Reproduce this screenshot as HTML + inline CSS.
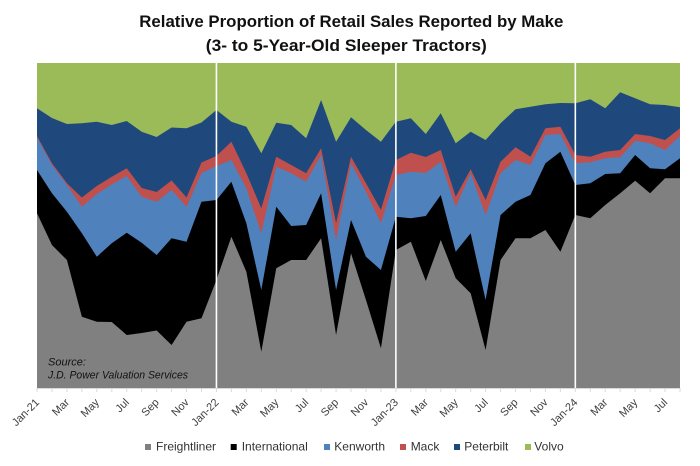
<!DOCTYPE html>
<html>
<head>
<meta charset="utf-8">
<style>
  html,body{margin:0;padding:0;background:#fff;}
  svg{display:block;}
  text{font-family:"Liberation Sans",Arial,sans-serif;}
</style>
</head>
<body>
<svg width="700" height="466" viewBox="0 0 700 466" xmlns="http://www.w3.org/2000/svg">
  <rect x="0" y="0" width="700" height="466" fill="#ffffff"/>

  <text x="351.3" y="27" text-anchor="middle" font-size="17" font-weight="bold" fill="#111" textLength="424" lengthAdjust="spacingAndGlyphs">Relative Proportion of Retail Sales Reported by Make</text>
  <text x="346.3" y="51" text-anchor="middle" font-size="17" font-weight="bold" fill="#111" textLength="281" lengthAdjust="spacingAndGlyphs">(3- to 5-Year-Old Sleeper Tractors)</text>

  <rect x="37" y="63" width="643" height="325" fill="#9BBB59"/>

  <polygon fill="#1F497D" points="37,108.3 51.95,118 66.91,124 81.86,123.3 96.81,121.7 111.77,125 126.72,121 141.67,131.7 156.63,137 171.58,127.5 186.53,128.3 201.49,122.5 216.44,110 231.39,121.7 246.35,126.7 261.3,153.3 276.25,122.7 291.21,125 306.16,138.3 321.11,100 336.07,141.7 351.02,117.3 365.97,130 380.93,141.7 395.88,121.7 410.84,118.3 425.79,134 440.74,113.3 455.7,143.3 470.65,131.7 485.6,140 500.56,123.3 515.51,109.3 530.46,106.7 545.42,104.3 560.37,103 575.33,103.3 590.28,99.3 605.23,108.3 620.19,92.3 635.14,98.3 650.09,104.3 665.05,105 680,107.3 680,388 37,388"/>

  <polygon fill="#C0504D" points="37,136 51.95,163.3 66.91,183.3 81.86,197.5 96.81,186 111.77,176.7 126.72,168.3 141.67,188 156.63,192 171.58,180.5 186.53,197.5 201.49,162.5 216.44,156 231.39,141.7 246.35,173.3 261.3,208.3 276.25,156.7 291.21,165 306.16,173.3 321.11,148.3 336.07,223.3 351.02,156.7 365.97,183.3 380.93,210 395.88,160 410.84,152.7 425.79,157 440.74,150 455.7,196.7 470.65,169.3 485.6,200 500.56,161.7 515.51,147.3 530.46,156.7 545.42,128.3 560.37,126.7 575.33,155 590.28,156.7 605.23,151.7 620.19,150 635.14,134 650.09,136 665.05,140 680,128.3 680,388 37,388"/>

  <polygon fill="#4F81BD" points="37,137.5 51.95,165 66.91,185 81.86,206.7 96.81,194 111.77,184.5 126.72,176 141.67,196.7 156.63,201.7 171.58,190 186.53,206.7 201.49,173 216.44,166 231.39,160 246.35,188.3 261.3,233.3 276.25,166.7 291.21,173.3 306.16,181.7 321.11,155 336.07,240 351.02,163.3 365.97,191.7 380.93,223.3 395.88,175 410.84,171.7 425.79,173 440.74,161.7 455.7,206.7 470.65,173.3 485.6,215 500.56,173.3 515.51,160 530.46,165 545.42,135 560.37,134 575.33,163.3 590.28,162.3 605.23,158.3 620.19,157.3 635.14,140.7 650.09,143.3 665.05,150 680,136 680,388 37,388"/>

  <polygon fill="#000000" points="37,170 51.95,193.3 66.91,211.7 81.86,233.3 96.81,256.7 111.77,243.3 126.72,232.7 141.67,242.7 156.63,255 171.58,238.3 186.53,241.7 201.49,201.7 216.44,200 231.39,181.7 246.35,223.3 261.3,290 276.25,206.7 291.21,226 306.16,225 321.11,193.3 336.07,290 351.02,220 365.97,256.7 380.93,270 395.88,216.7 410.84,218.3 425.79,216 440.74,195 455.7,251.7 470.65,233.3 485.6,300 500.56,215 515.51,201.7 530.46,195 545.42,163.3 560.37,151.7 575.33,185 590.28,183.3 605.23,174 620.19,173.3 635.14,155 650.09,168.3 665.05,169.3 680,158.3 680,388 37,388"/>

  <polygon fill="#808080" points="37,213.3 51.95,245 66.91,260 81.86,316.7 96.81,321.7 111.77,322 126.72,335 141.67,333 156.63,330.5 171.58,345 186.53,321.7 201.49,318.3 216.44,280 231.39,236.7 246.35,271.7 261.3,351.7 276.25,268.3 291.21,260 306.16,260 321.11,238.3 336.07,335 351.02,253.3 365.97,300 380.93,348.3 395.88,250 410.84,241.7 425.79,281 440.74,240 455.7,278.3 470.65,293.3 485.6,350 500.56,260 515.51,238.3 530.46,238.3 545.42,230 560.37,251.7 575.33,215 590.28,218.3 605.23,205 620.19,193.3 635.14,180.7 650.09,193.3 665.05,178.3 680,178.3 680,388 37,388"/>

  <line x1="216.44" y1="63" x2="216.44" y2="389" stroke="#ffffff" stroke-width="1.6"/>
  <line x1="395.88" y1="63" x2="395.88" y2="389" stroke="#ffffff" stroke-width="1.6"/>
  <line x1="575.33" y1="63" x2="575.33" y2="389" stroke="#ffffff" stroke-width="1.6"/>

  <text x="48" y="365.5" font-size="11" font-style="italic" fill="#111">Source:</text>
  <text x="48" y="378.5" font-size="11" font-style="italic" fill="#111" textLength="140" lengthAdjust="spacingAndGlyphs">J.D. Power Valuation Services</text>

  <line x1="37" y1="388.5" x2="680" y2="388.5" stroke="#d9d9d9" stroke-width="1"/>
  <g stroke="#d9d9d9" stroke-width="1">
    <line x1="37" y1="388" x2="37" y2="392"/>
    <line x1="51.95" y1="388" x2="51.95" y2="392"/>
    <line x1="66.91" y1="388" x2="66.91" y2="392"/>
    <line x1="81.86" y1="388" x2="81.86" y2="392"/>
    <line x1="96.81" y1="388" x2="96.81" y2="392"/>
    <line x1="111.77" y1="388" x2="111.77" y2="392"/>
    <line x1="126.72" y1="388" x2="126.72" y2="392"/>
    <line x1="141.67" y1="388" x2="141.67" y2="392"/>
    <line x1="156.63" y1="388" x2="156.63" y2="392"/>
    <line x1="171.58" y1="388" x2="171.58" y2="392"/>
    <line x1="186.53" y1="388" x2="186.53" y2="392"/>
    <line x1="201.49" y1="388" x2="201.49" y2="392"/>
    <line x1="216.44" y1="388" x2="216.44" y2="392"/>
    <line x1="231.39" y1="388" x2="231.39" y2="392"/>
    <line x1="246.35" y1="388" x2="246.35" y2="392"/>
    <line x1="261.3" y1="388" x2="261.3" y2="392"/>
    <line x1="276.25" y1="388" x2="276.25" y2="392"/>
    <line x1="291.21" y1="388" x2="291.21" y2="392"/>
    <line x1="306.16" y1="388" x2="306.16" y2="392"/>
    <line x1="321.11" y1="388" x2="321.11" y2="392"/>
    <line x1="336.07" y1="388" x2="336.07" y2="392"/>
    <line x1="351.02" y1="388" x2="351.02" y2="392"/>
    <line x1="365.97" y1="388" x2="365.97" y2="392"/>
    <line x1="380.93" y1="388" x2="380.93" y2="392"/>
    <line x1="395.88" y1="388" x2="395.88" y2="392"/>
    <line x1="410.84" y1="388" x2="410.84" y2="392"/>
    <line x1="425.79" y1="388" x2="425.79" y2="392"/>
    <line x1="440.74" y1="388" x2="440.74" y2="392"/>
    <line x1="455.7" y1="388" x2="455.7" y2="392"/>
    <line x1="470.65" y1="388" x2="470.65" y2="392"/>
    <line x1="485.6" y1="388" x2="485.6" y2="392"/>
    <line x1="500.56" y1="388" x2="500.56" y2="392"/>
    <line x1="515.51" y1="388" x2="515.51" y2="392"/>
    <line x1="530.46" y1="388" x2="530.46" y2="392"/>
    <line x1="545.42" y1="388" x2="545.42" y2="392"/>
    <line x1="560.37" y1="388" x2="560.37" y2="392"/>
    <line x1="575.33" y1="388" x2="575.33" y2="392"/>
    <line x1="590.28" y1="388" x2="590.28" y2="392"/>
    <line x1="605.23" y1="388" x2="605.23" y2="392"/>
    <line x1="620.19" y1="388" x2="620.19" y2="392"/>
    <line x1="635.14" y1="388" x2="635.14" y2="392"/>
    <line x1="650.09" y1="388" x2="650.09" y2="392"/>
    <line x1="665.05" y1="388" x2="665.05" y2="392"/>
    <line x1="680" y1="388" x2="680" y2="392"/>
  </g>

  <g font-size="11" fill="#404040" text-anchor="end">
    <text transform="translate(40,403) rotate(-45)">Jan-21</text>
    <text transform="translate(69.91,403) rotate(-45)">Mar</text>
    <text transform="translate(99.81,403) rotate(-45)">May</text>
    <text transform="translate(129.72,403) rotate(-45)">Jul</text>
    <text transform="translate(159.63,403) rotate(-45)">Sep</text>
    <text transform="translate(189.53,403) rotate(-45)">Nov</text>
    <text transform="translate(219.44,403) rotate(-45)">Jan-22</text>
    <text transform="translate(249.35,403) rotate(-45)">Mar</text>
    <text transform="translate(279.25,403) rotate(-45)">May</text>
    <text transform="translate(309.16,403) rotate(-45)">Jul</text>
    <text transform="translate(339.07,403) rotate(-45)">Sep</text>
    <text transform="translate(368.97,403) rotate(-45)">Nov</text>
    <text transform="translate(398.88,403) rotate(-45)">Jan-23</text>
    <text transform="translate(428.79,403) rotate(-45)">Mar</text>
    <text transform="translate(458.7,403) rotate(-45)">May</text>
    <text transform="translate(488.6,403) rotate(-45)">Jul</text>
    <text transform="translate(518.51,403) rotate(-45)">Sep</text>
    <text transform="translate(548.42,403) rotate(-45)">Nov</text>
    <text transform="translate(578.33,403) rotate(-45)">Jan-24</text>
    <text transform="translate(608.23,403) rotate(-45)">Mar</text>
    <text transform="translate(638.14,403) rotate(-45)">May</text>
    <text transform="translate(668.05,403) rotate(-45)">Jul</text>
  </g>

  <g font-size="12" fill="#333">
    <rect x="145" y="444" width="6" height="6" fill="#808080"/>
    <text x="156" y="450.5">Freightliner</text>
    <rect x="230.7" y="444" width="6" height="6" fill="#000000"/>
    <text x="241.7" y="450.5">International</text>
    <rect x="324" y="444" width="6" height="6" fill="#4F81BD"/>
    <text x="334.3" y="450.5">Kenworth</text>
    <rect x="400" y="444" width="6" height="6" fill="#C0504D"/>
    <text x="410.7" y="450.5">Mack</text>
    <rect x="454" y="444" width="6" height="6" fill="#1F497D"/>
    <text x="464.3" y="450.5">Peterbilt</text>
    <rect x="525" y="444" width="6" height="6" fill="#9BBB59"/>
    <text x="534.3" y="450.5">Volvo</text>
  </g>
</svg>
</body>
</html>
